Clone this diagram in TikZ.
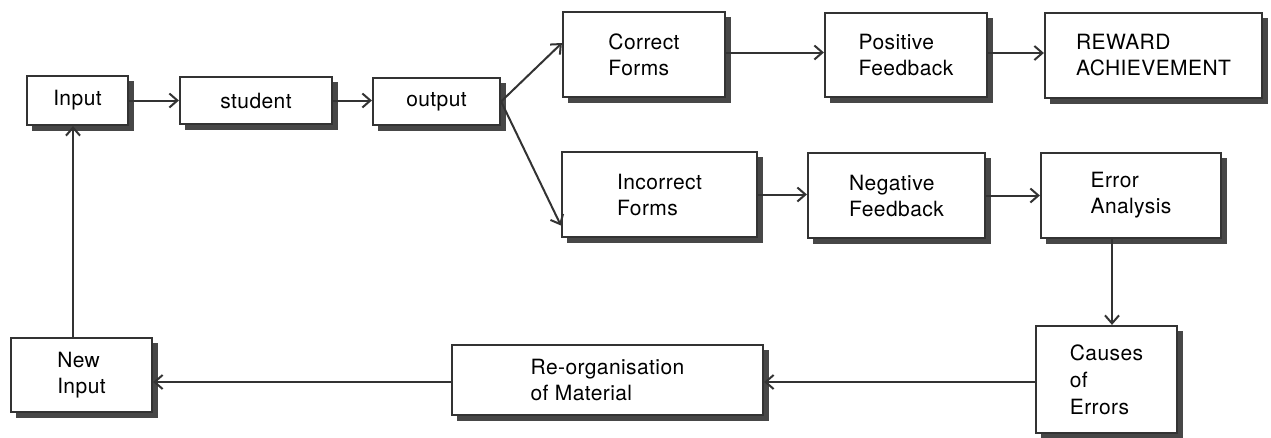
\documentclass[tikz,border=0pt]{standalone}
\usepackage{fontspec}
\setmainfont{TeX Gyre Heros}[LetterSpace=2.0]
\usetikzlibrary{arrows.meta,shadows}
\begin{document}
\begin{tikzpicture}[x=1pt,y=-1pt,
  box/.style={draw=black!80, line width=2.2pt, fill=white, align=left, inner sep=0pt,
    font=\fontsize{21}{26}\selectfont,
    general shadow={shadow xshift=5pt, shadow yshift=-5pt, fill=black!72, draw=black!72, line width=1pt}},
  conn/.style={draw=black!80, line width=2pt, -{Straight Barb[length=8pt,width=14pt,line width=2pt]}}]
\useasboundingbox[fill=white] (0,0) rectangle (1271,437);
\node[box, minimum width=101pt, minimum height=49pt] (input) at (77.5,100.5) {Input};
\node[box, minimum width=152pt, minimum height=47pt] (student) at (256,100.5) {student};
\node[box, minimum width=127pt, minimum height=47pt] (output) at (436.5,101.5) {output};
\node[box, minimum width=162pt, minimum height=85pt] (correct) at (644,54.5) {Correct\\Forms};
\node[box, minimum width=162pt, minimum height=84pt] (positive) at (906,55) {Positive\\Feedback};
\node[box, minimum width=217pt, minimum height=85pt] (reward) at (1153.5,55.5) {REWARD\\ACHIEVEMENT};
\node[box, minimum width=195pt, minimum height=85pt] (incorrect) at (659.5,194.5) {Incorrect\\Forms};
\node[box, minimum width=177pt, minimum height=85pt] (negative) at (896.5,195.5) {Negative\\Feedback};
\node[box, minimum width=180pt, minimum height=85pt] (error) at (1131,195.5) {Error\\Analysis};
\node[box, minimum width=141pt, minimum height=107pt, font=\fontsize{21}{27}\selectfont] (causes) at (1106.5,379.5) {Causes\\of\\Errors};
\node[box, minimum width=311pt, minimum height=70pt] (reorg) at (607.5,380) {Re-organisation\\of Material};
\node[box, minimum width=141pt, minimum height=74pt] (newinput) at (81.5,375) {New\\Input};
\draw[conn] (input.east) -- (input.east -| student.west);
\draw[conn] (student.east) -- (student.east -| output.west);
\draw[conn] (output.east) -- ([yshift=11.5pt]correct.west);
\draw[conn] (output.east) -- ([yshift=-31pt]incorrect.west);
\draw[conn] ([yshift=2pt]correct.east) -- ([yshift=2pt]correct.east -| positive.west);
\draw[conn] ([yshift=2pt]positive.east) -- ([yshift=2pt]positive.east -| reward.west);
\draw[conn] (incorrect.east) -- (incorrect.east -| negative.west);
\draw[conn] (negative.east) -- (negative.east -| error.west);
\draw[conn] ([xshift=-19pt]error.south) -- ([xshift=-19pt]error.south |- causes.north);
\draw[conn] ([yshift=-2.5pt]causes.west) -- ([yshift=-2.5pt]causes.west -| reorg.east);
\draw[conn] ([yshift=-2pt]reorg.west) -- ([yshift=-2pt]reorg.west -| newinput.east);
\draw[conn] ([xshift=-8.5pt]newinput.north) -- ([xshift=-8.5pt]newinput.north |- input.south);
\end{tikzpicture}
\end{document}
